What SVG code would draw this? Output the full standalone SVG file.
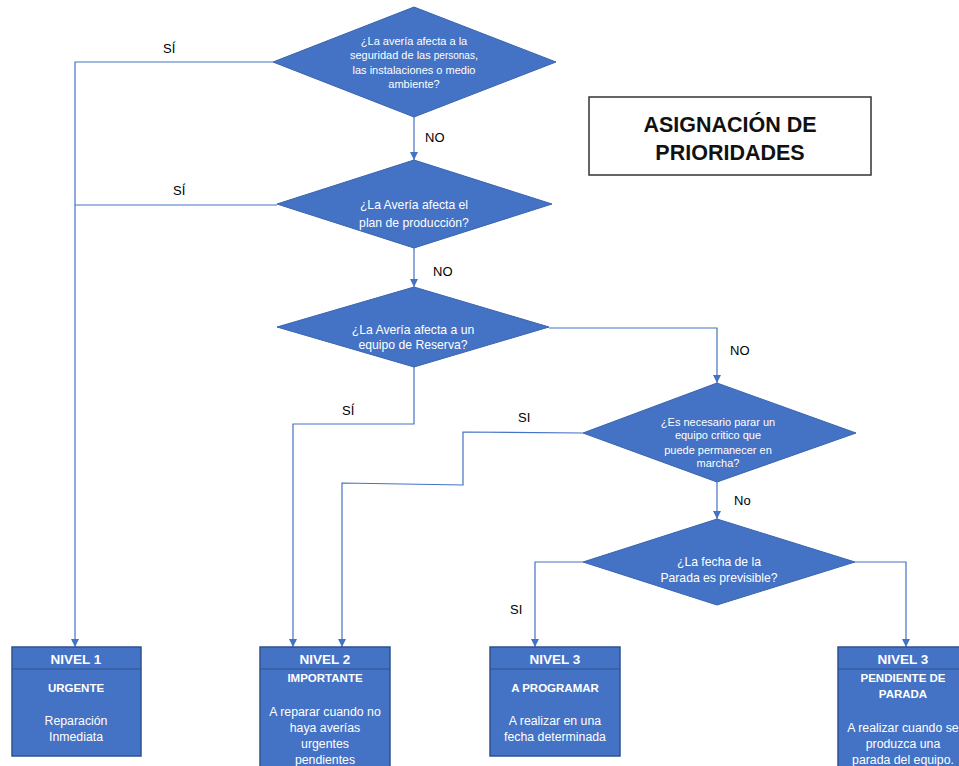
<svg xmlns="http://www.w3.org/2000/svg" width="959" height="766" viewBox="0 0 959 766">
<style>
.dia{fill:#4472C4;stroke:#3A64B0;stroke-width:1}
.box{fill:#4472C4;stroke:#2F528F;stroke-width:1.5}
.wt{fill:#fff;font-family:"Liberation Sans",Arial,sans-serif;text-anchor:middle}
.hd{font-weight:bold;font-size:13.5px}
.bd{font-weight:bold;font-size:11.5px}
.tx{font-size:12.3px}
.lb{fill:#000;font-family:"Liberation Sans",Arial,sans-serif;font-size:13px}
.con{fill:none;stroke:#4472C4;stroke-width:1.2}
</style>
<defs>
<marker id="arr" viewBox="0 0 10 10" refX="10" refY="5" markerWidth="8" markerHeight="8" markerUnits="userSpaceOnUse" orient="auto">
<path d="M0,0 L10,5 L0,10 z" fill="#4472C4"/>
</marker>
</defs>
<rect width="959" height="766" fill="#fff"/>

<g id="connectors">
<path class="con" d="M273,62 H75 V647" marker-end="url(#arr)"/>
<path class="con" d="M277,205 H75"/>
<path class="con" d="M414,117 V160" marker-end="url(#arr)"/>
<path class="con" d="M414,248 V287" marker-end="url(#arr)"/>
<path class="con" d="M414,367 V424 H293 V647" marker-end="url(#arr)"/>
<path class="con" d="M549,328 H717 V383" marker-end="url(#arr)"/>
<path class="con" d="M583,433 L463,432 V485 L342,483 V647" marker-end="url(#arr)"/>
<path class="con" d="M717,482 V519" marker-end="url(#arr)"/>
<path class="con" d="M583,562 H535 V647" marker-end="url(#arr)"/>
<path class="con" d="M855,562 H906 V647" marker-end="url(#arr)"/>
<text class="lb" x="163" y="53">SÍ</text>
<text class="lb" x="173" y="195">SÍ</text>
<text class="lb" x="425" y="142">NO</text>
<text class="lb" x="433" y="276">NO</text>
<text class="lb" x="342" y="415">SÍ</text>
<text class="lb" x="730" y="355">NO</text>
<text class="lb" x="518" y="422">SI</text>
<text class="lb" x="734" y="505">No</text>
<text class="lb" x="510" y="614">SI</text>
</g>

<g id="d1">
<polygon class="dia" points="414,7 556,62 414,117 273,62"/>
<text class="wt" font-size="11"><tspan x="414" y="45">¿La avería afecta a la</tspan><tspan x="414" y="59">seguridad de las <tspan font-size="10">personas</tspan>,</tspan><tspan x="414" y="74">las instalaciones o medio</tspan><tspan x="414" y="88">ambiente?</tspan></text>
</g>

<g id="d2">
<polygon class="dia" points="414,160 552,204 414,248 277,204"/>
<text class="wt" font-size="12.2"><tspan x="414" y="209">¿La Avería afecta el</tspan><tspan x="414" y="227">plan de producción?</tspan></text>
</g>

<g id="d3">
<polygon class="dia" points="414,287 549,327 414,367 277,327"/>
<text class="wt" font-size="12.2"><tspan x="413" y="334">¿La Avería afecta a un</tspan><tspan x="413" y="349">equipo de Reserva?</tspan></text>
</g>

<g id="d4">
<polygon class="dia" points="717,383 856,433 717,482 583,433"/>
<text class="wt" font-size="11"><tspan x="718" y="426">¿Es necesario parar un</tspan><tspan x="718" y="439">equipo critico que</tspan><tspan x="718" y="454">puede permanecer en</tspan><tspan x="718" y="467">marcha?</tspan></text>
</g>

<g id="d5">
<polygon class="dia" points="717,519 855,562 717,605 583,562"/>
<text class="wt" font-size="12.2"><tspan x="719" y="566">¿La fecha de la</tspan><tspan x="719" y="582">Parada es previsible?</tspan></text>
</g>

<g id="title">
<rect x="589" y="97" width="282" height="78" fill="#fff" stroke="#333" stroke-width="1.5"/>
<text x="730" y="132" font-family="Liberation Sans,Arial,sans-serif" font-weight="bold" font-size="21.5" text-anchor="middle" fill="#111">ASIGNACIÓN DE</text>
<text x="730" y="160" font-family="Liberation Sans,Arial,sans-serif" font-weight="bold" font-size="21.5" text-anchor="middle" fill="#111">PRIORIDADES</text>
</g>

<g id="n1">
<rect class="box" x="12" y="647" width="129" height="109"/>
<line x1="12" y1="669" x2="141" y2="669" stroke="#2F528F" stroke-width="1.2"/>
<text class="wt hd" x="76" y="664">NIVEL 1</text>
<text class="wt bd" x="76" y="692">URGENTE</text>
<text class="wt tx"><tspan x="76" y="725">Reparación</tspan><tspan x="76" y="741">Inmediata</tspan></text>
</g>

<g id="n2">
<rect class="box" x="260" y="647" width="130" height="125"/>
<line x1="260" y1="669" x2="390" y2="669" stroke="#2F528F" stroke-width="1.2"/>
<text class="wt hd" x="325" y="664">NIVEL 2</text>
<text class="wt bd" x="325" y="682">IMPORTANTE</text>
<text class="wt tx"><tspan x="325" y="716">A reparar cuando no</tspan><tspan x="325" y="732">haya averías</tspan><tspan x="325" y="748">urgentes</tspan><tspan x="325" y="764">pendientes</tspan></text>
</g>

<g id="n3a">
<rect class="box" x="490" y="647" width="130" height="109"/>
<line x1="490" y1="669" x2="620" y2="669" stroke="#2F528F" stroke-width="1.2"/>
<text class="wt hd" x="555" y="664">NIVEL 3</text>
<text class="wt bd" x="555" y="692">A PROGRAMAR</text>
<text class="wt tx"><tspan x="555" y="725">A realizar en una</tspan><tspan x="555" y="741">fecha determinada</tspan></text>
</g>

<g id="n3b">
<rect class="box" x="838" y="647" width="130" height="125"/>
<line x1="838" y1="669" x2="968" y2="669" stroke="#2F528F" stroke-width="1.2"/>
<text class="wt hd" x="903" y="664">NIVEL 3</text>
<text class="wt bd"><tspan x="903" y="682">PENDIENTE DE</tspan><tspan x="903" y="698">PARADA</tspan></text>
<text class="wt tx"><tspan x="903" y="732">A realizar  cuando se</tspan><tspan x="903" y="748">produzca una</tspan><tspan x="903" y="764">parada del equipo.</tspan></text>
</g>
</svg>
